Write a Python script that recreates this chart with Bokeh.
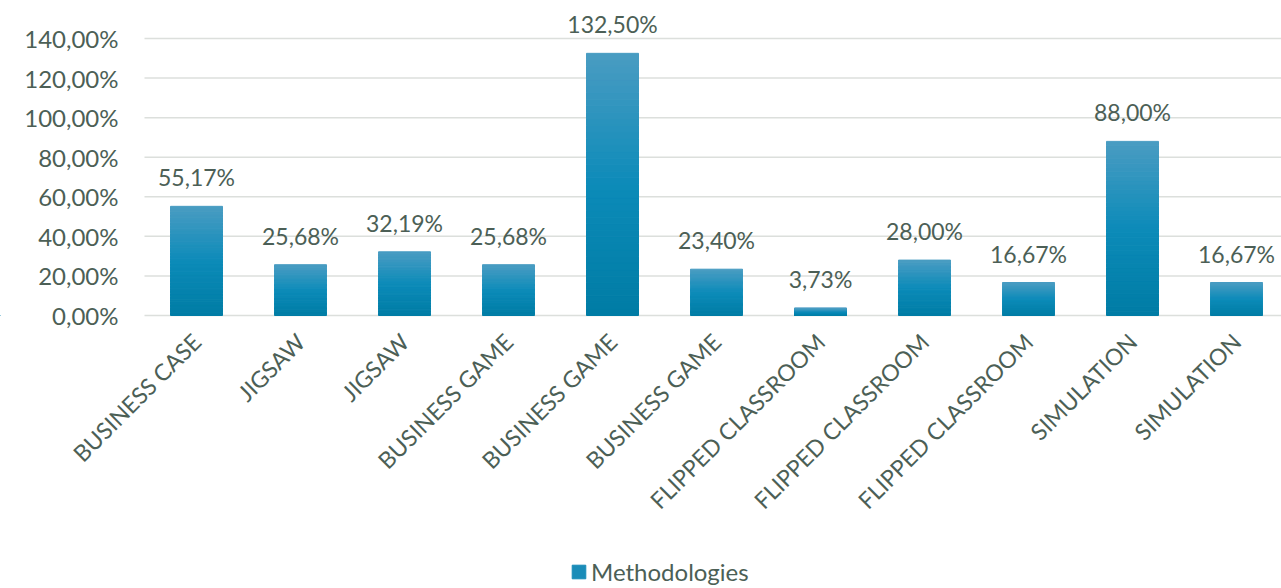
from bokeh.plotting import figure
from bokeh.models import Range1d, Legend, LegendItem, ColumnDataSource
from bokeh.core.properties import value
from bokeh.embed import file_html
from bokeh.resources import INLINE
import math

categories = ["BUSINESS CASE", "JIGSAW", "JIGSAW", "BUSINESS GAME", "BUSINESS GAME",
              "BUSINESS GAME", "FLIPPED CLASSROOM", "FLIPPED CLASSROOM", "FLIPPED CLASSROOM",
              "SIMULATION", "SIMULATION"]
values = [55.17, 25.68, 32.19, 25.68, 132.50, 23.40, 3.73, 28.00, 16.67, 88.00, 16.67]
series_name = "Methodologies"
y_ticks = [0, 20, 40, 60, 80, 100, 120, 140]

FONT = "Lato"
TXT = "#4c5f56"

PX_PER_CAT = 104.0
PX_PER_UNIT = 277.0 / 140.0
LEFT_PX = 144     # space left of the plotting area (tick labels)
FW = 1281
TOP_PX = 311      # frame space above the zero line
BOTTOM_PX = 273   # frame space below the zero line (category labels + legend)
FH = TOP_PX + BOTTOM_PX

X0 = -0.5 - LEFT_PX / PX_PER_CAT
X1 = X0 + FW / PX_PER_CAT
XL = -0.5 - 26 / PX_PER_CAT  # right edge of y tick labels

xs = list(range(len(categories)))
p = figure(frame_width=FW, frame_height=FH, output_backend="svg", toolbar_location=None,
           x_range=Range1d(X0, X1),
           y_range=Range1d(-BOTTOM_PX / PX_PER_UNIT, TOP_PX / PX_PER_UNIT),
           min_border_left=0, min_border_top=4, min_border_right=0, min_border_bottom=0,
           x_axis_location=None, y_axis_location=None)
p.grid.visible = False

# horizontal gridlines at the value ticks
p.segment(x0=[-0.5 for _ in y_ticks], x1=[X1 for _ in y_ticks], y0=y_ticks, y1=y_ticks,
          line_color="#dcdfdc", line_width=1.5)

# y tick labels
tick_labels = [("%.2f" % t).replace(".", ",") + "%" for t in y_ticks]
p.text(x=[XL for _ in y_ticks], y=y_ticks, text=tick_labels, text_align="right",
       text_baseline="middle", text_font=value(FONT), text_font_size="24px", text_color=TXT)

# gradient-like fill: stack slices of each bar from light (top) to dark (bottom)
top_c = (0x4a, 0x9c, 0xc2)
mid_c = (0x0c, 0x8b, 0xb9)
bot_c = (0x00, 0x7c, 0xa4)
N = 40
for k in range(N):
    t = (k + 0.5) / N  # 0 bottom, 1 top
    if t < 0.5:
        a, b, f = bot_c, mid_c, t / 0.5
    else:
        a, b, f = mid_c, top_c, (t - 0.5) / 0.5
    col = "#%02x%02x%02x" % tuple(int(round(a[i] + (b[i] - a[i]) * f)) for i in range(3))
    src = ColumnDataSource(dict(x=xs, bottom=[v * k / N for v in values],
                                top=[v * (k + 1) / N for v in values]))
    p.vbar(x="x", bottom="bottom", top="top", width=0.5, source=src,
           fill_color=col, line_color=col, line_width=1)

# data labels
labels = [("%.2f" % v).replace(".", ",") + "%" for v in values]
p.text(x=xs, y=values, text=labels, text_align="center", text_baseline="bottom",
       y_offset=-15, text_font=value(FONT), text_font_size="23px", text_color=TXT)

# category labels (rotated), hanging below the zero line
p.text(x=xs, y=[0 for _ in xs], text=categories, angle=math.pi / 4,
       text_align="right", text_baseline="middle", y_offset=22,
       text_font=value(FONT), text_font_size="23px", text_color=TXT)

legend_r = p.vbar(x=[-50], top=[0], width=0.1, fill_color="#1a8cb8", line_color="#1a8cb8")
legend = Legend(items=[LegendItem(label=series_name, renderers=[legend_r])],
                location=(570, 2), orientation="horizontal",
                label_text_font=FONT, label_text_font_size="24px", label_text_color=TXT,
                glyph_width=17, glyph_height=17, label_standoff=4,
                border_line_color=None, background_fill_alpha=0, margin=0, padding=0)
p.add_layout(legend, "center")

p.outline_line_color = None

open("out.html", "w").write(file_html(p, INLINE))
